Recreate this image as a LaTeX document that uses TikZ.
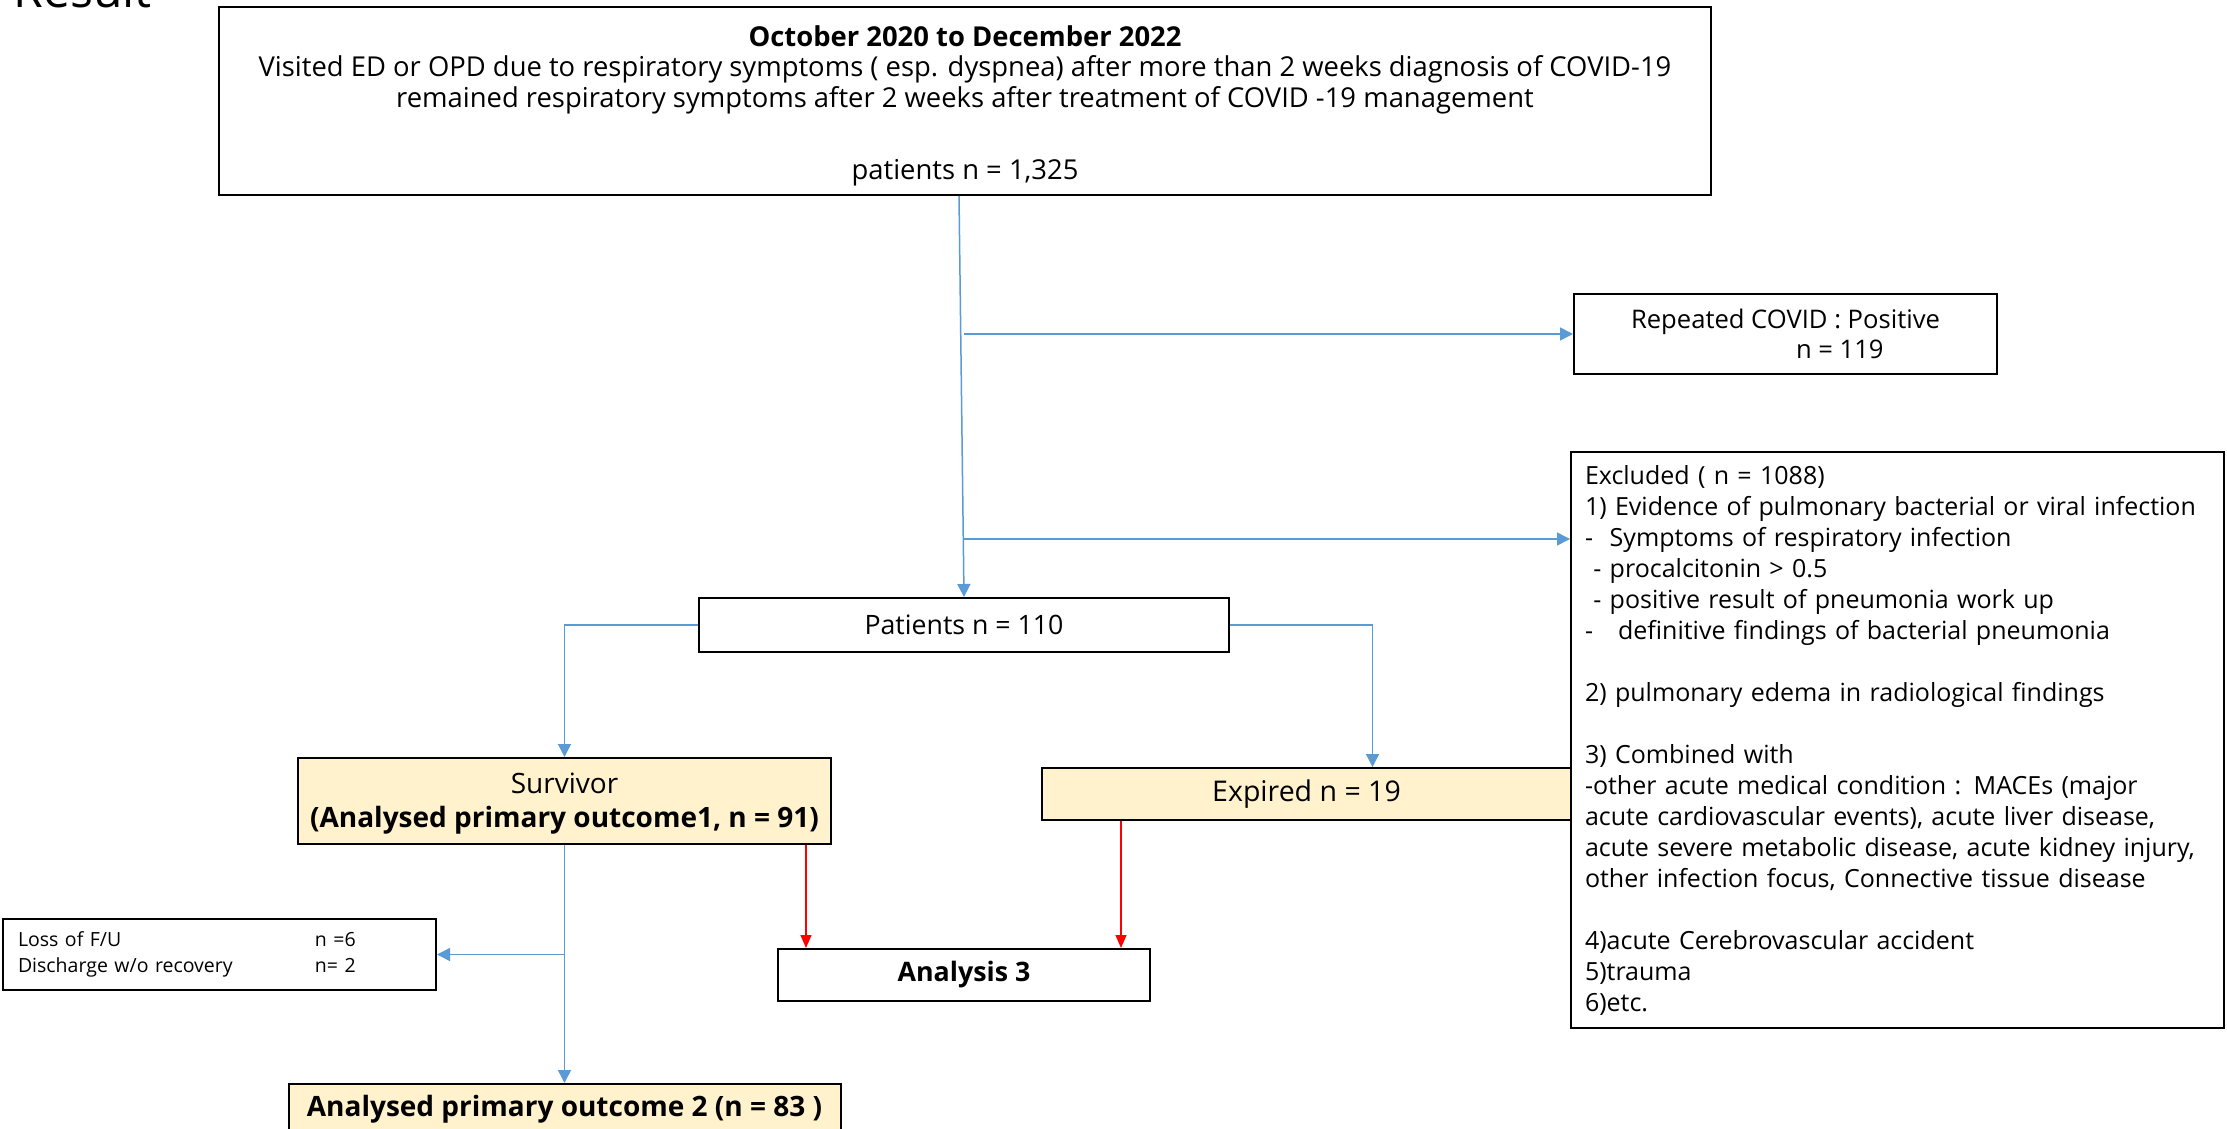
\documentclass[tikz,border=0pt]{standalone}
\usepackage{fontspec}
\setmainfont{Open Sans}
\usetikzlibrary{calc,arrows.meta}

\definecolor{flowblue}{RGB}{91,155,213}
\definecolor{flowred}{RGB}{255,0,0}
\definecolor{flowfill}{RGB}{255,242,204}
\newcommand{\fsz}[2]{\fontsize{#1}{#2}\selectfont}

\begin{document}
\begin{tikzpicture}[x=1pt,y=-1pt,
	box/.style={draw=black,line width=2pt,fill=white,inner sep=0pt,align=center},
	yellowbox/.style={box,fill=flowfill},
	bluearrow/.style={draw=flowblue,line width=1.5pt,-{Triangle[length=13pt,width=13pt]}},
	redarrow/.style={draw=flowred,line width=1.2pt,-{Triangle[length=13pt,width=11pt]}}]

\clip (0,0) rectangle (2227,1129);
\fill[white] (0,0) rectangle (2227,1129);

% Title, cut at the top edge
\node[anchor=base west,font=\fsz{48}{48}] (title) at (10,8) {Result};

% Boxes
\node[box,minimum width=1492,minimum height=188,font=\fsz{27.4}{30.5}] (top) at (965,101)
	{\rule{0pt}{31pt}\textbf{October 2020 to December 2022}\\
	Visited ED or OPD due to respiratory symptoms ( esp. dyspnea) after more than 2 weeks diagnosis of COVID-19\\
	remained respiratory symptoms after 2 weeks after treatment of COVID -19 management\\[42pt]
	patients n = 1,325};

\node[box,minimum width=423,minimum height=80,align=left,font=\fsz{25.6}{30}] (rep) at (1785.5,334)
	{Repeated COVID : Positive\\\hspace*{165pt}n = 119};

\node[box,minimum width=530,minimum height=54,font=\fsz{26.7}{30}] (pat) at (964,625) {Patients n = 110};

\node[yellowbox,minimum width=533,minimum height=86,font=\fsz{28}{34}] (surv) at (564.5,801)
	{\rule{0pt}{26pt}Survivor\\\textbf{(Analysed primary outcome1, n = 91)}};

\node[yellowbox,minimum width=529,minimum height=52,font=\fsz{28.5}{30}] (expd) at (1306.5,794) {Expired n = 19};

\node[box,minimum width=653,minimum height=576,text width=625,inner xsep=14pt,align=left,font=\fsz{25}{31}] (excl) at (1897.5,740)
	{Excluded ( n = 1088)\\
	1) Evidence of pulmonary bacterial or viral infection\\
	-\ \ Symptoms of respiratory infection\\
	\ - procalcitonin > 0.5\\
	\ - positive result of pneumonia work up\\
	-\ \ \ definitive findings of bacterial pneumonia\\[31pt]
	2) pulmonary edema in radiological findings\\[31pt]
	3) Combined with\\
	-other acute medical condition : MACEs (major\\
	acute cardiovascular events), acute liver disease,\\
	acute severe metabolic disease, acute kidney injury,\\
	other infection focus, Connective tissue disease\\[31pt]
	4)acute Cerebrovascular accident\\
	5)trauma\\
	6)etc.};

\node[box,minimum width=372,minimum height=52,font=\fsz{26.8}{30}] (ana3) at (964,975) {\textbf{Analysis 3}};

\node[box,minimum width=433,minimum height=71,text width=403,inner xsep=15pt,align=left,font=\fsz{19.5}{25.6}] (loss) at (219.5,954.5)
	{\makebox[297pt][l]{Loss of F/U}n =6\\
	\makebox[297pt][l]{Discharge w/o recovery}n= 2};

\node[yellowbox,minimum width=552,minimum height=50,font=\fsz{28}{30}] (ana2) at (564.5,1109)
	{\textbf{Analysed primary outcome 2 (n = 83 )}};

% Connectors
\coordinate (exclin) at ($(excl.north west)+(0,88)$);
\coordinate (expdin) at ($(expd.north)+(66,0)$);
\coordinate (redA) at ($(surv.south east)+(-26,0)$);
\coordinate (redB) at ($(expd.south west)+(80,0)$);

\draw[bluearrow] ($(top.south)+(-6,0)$) -- (pat.north);
\draw[bluearrow] (pat.north |- rep.west) -- (rep.west);
\draw[bluearrow] (pat.north |- exclin) -- (exclin);
\draw[bluearrow] (pat.west) -| (surv.north);
\draw[bluearrow] (pat.east) -| (expdin);
\draw[redarrow] (redA) -- (redA |- ana3.north);
\draw[redarrow] (redB) -- (redB |- ana3.north);
\draw[bluearrow] (surv.south) -- (ana2.north);
\draw[bluearrow] (surv.south |- loss.east) -- (loss.east);

\end{tikzpicture}
\end{document}
